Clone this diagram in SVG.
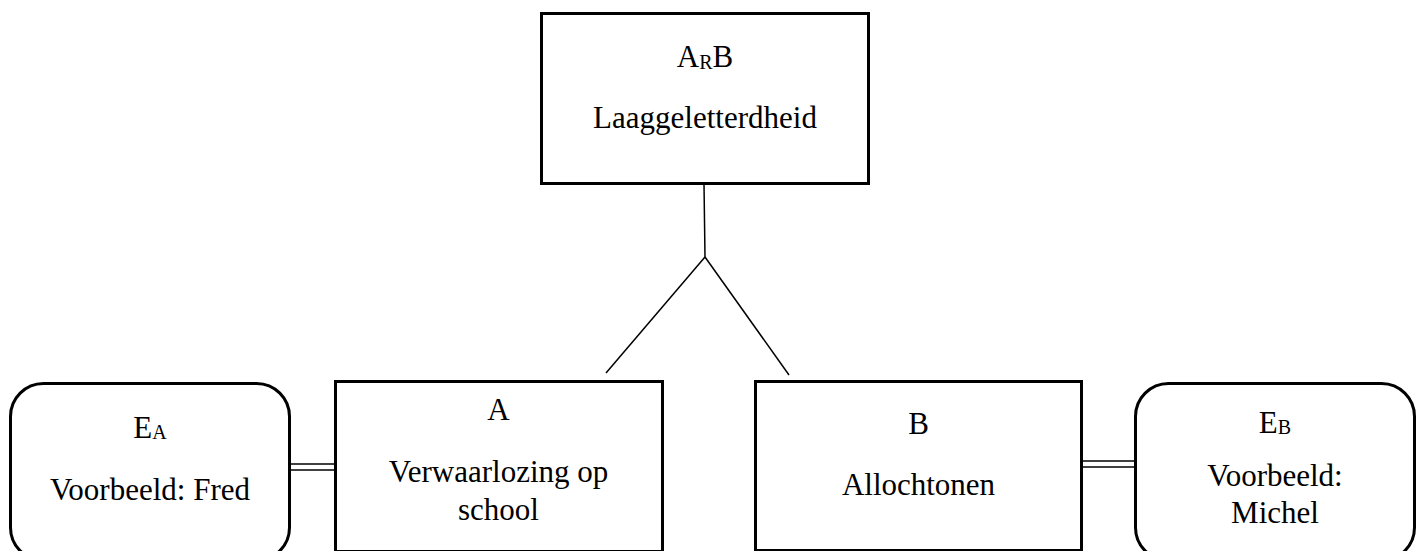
<svg xmlns="http://www.w3.org/2000/svg" width="1422" height="551" viewBox="0 0 1422 551">
<style>
.box{fill:#fff;stroke:#000;stroke-width:3}
.ln{stroke:#000;stroke-width:1.5;fill:none}
.dl{stroke:#000;stroke-width:1.5;fill:none}
text{font-family:"Liberation Serif","Times New Roman",serif;font-size:31px;fill:#000;text-anchor:middle}
.sub{font-size:20px}
</style>
<rect width="1422" height="551" fill="#fff"/>
<g id="connectors">
<line class="ln" x1="704" y1="184" x2="705" y2="257"/>
<line class="ln" x1="705" y1="257" x2="606" y2="373"/>
<line class="ln" x1="705" y1="257" x2="789" y2="375"/>
<line class="dl" x1="287" y1="464" x2="335" y2="464"/>
<line class="dl" x1="287" y1="470" x2="335" y2="470"/>
<line class="dl" x1="1082" y1="461" x2="1135" y2="461"/>
<line class="dl" x1="1082" y1="467" x2="1135" y2="467"/>
</g>
<g id="node-arb">
<rect class="box" x="541.5" y="13.5" width="327" height="170"/>
<text x="705" y="67">A<tspan class="sub" dy="2">R</tspan><tspan dy="-2">B</tspan></text>
<text x="705" y="128">Laaggeletterdheid</text>
</g>
<g id="node-a">
<rect class="box" x="335.5" y="381.5" width="327" height="170"/>
<text x="498.5" y="420">A</text>
<text x="498.5" y="482">Verwaarlozing op</text>
<text x="498.5" y="520">school</text>
</g>
<g id="node-b">
<rect class="box" x="755.5" y="381.5" width="326" height="169"/>
<text x="918.5" y="434">B</text>
<text x="918.5" y="495">Allochtonen</text>
</g>
<g id="node-ea">
<rect class="box" x="10.5" y="383.5" width="279" height="177" rx="33" ry="33"/>
<text x="150" y="438">E<tspan class="sub" dy="1">A</tspan></text>
<text x="150" y="500">Voorbeeld: Fred</text>
</g>
<g id="node-eb">
<rect class="box" x="1135.5" y="383.5" width="279" height="177" rx="33" ry="33"/>
<text x="1275" y="433">E<tspan class="sub" dy="1">B</tspan></text>
<text x="1275" y="486">Voorbeeld:</text>
<text x="1275" y="523">Michel</text>
</g>
</svg>
